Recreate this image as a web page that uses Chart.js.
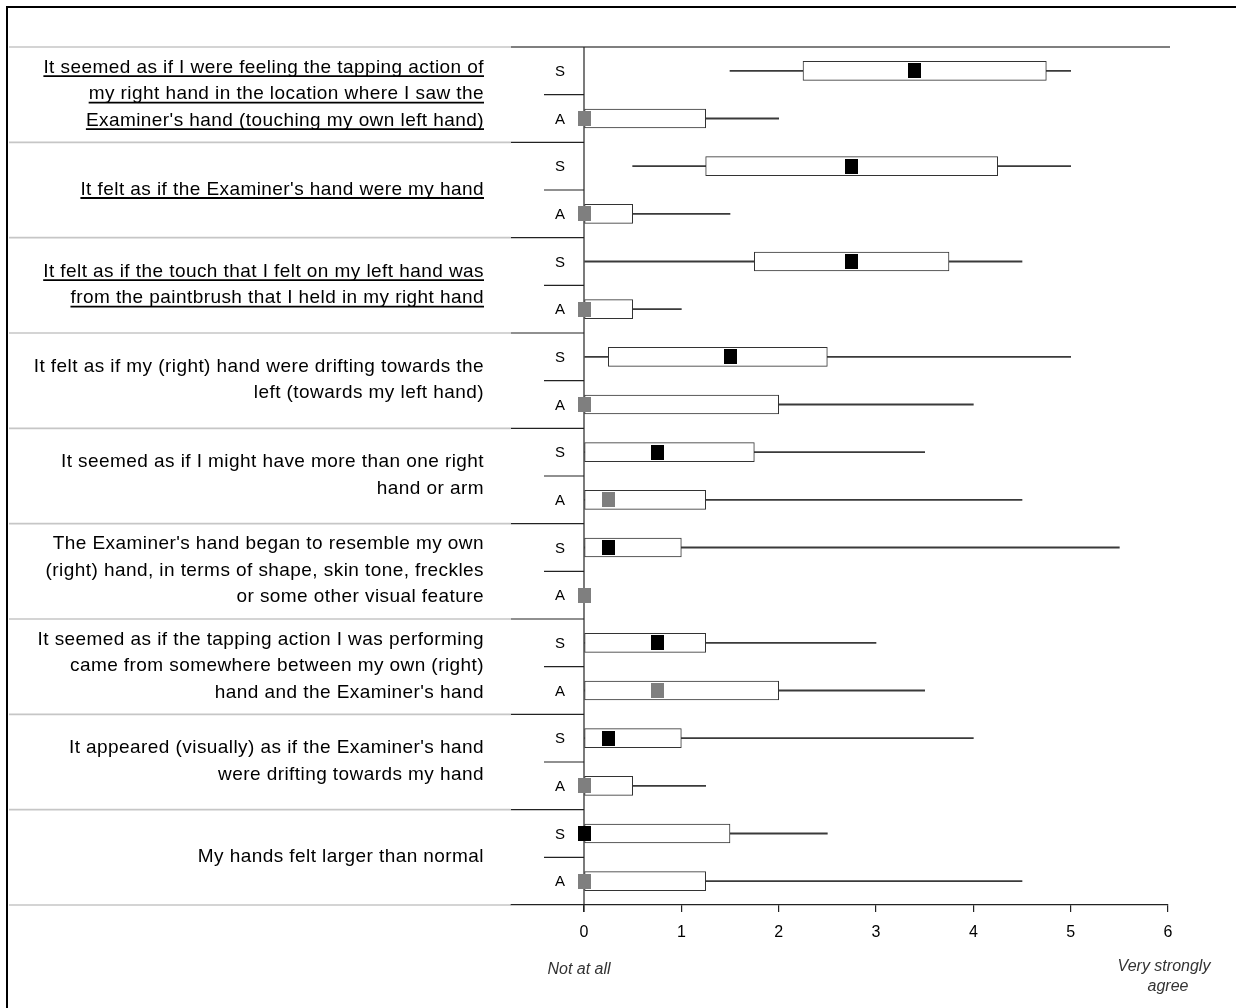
<!DOCTYPE html>
<html>
<head>
<meta charset="utf-8">
<script src="https://cdn.jsdelivr.net/npm/chart.js@4/dist/chart.umd.min.js"></script>
<style>
  html, body { margin: 0; padding: 0; background: #fff; }
  canvas { display: block; }
</style>
</head>
<body>
<canvas id="chart" width="1236" height="1008"></canvas>
<script>
// Questionnaire statements (one entry per item, split into display lines)
const questions = [
  ["It seemed as if I were feeling the tapping action of", "my right hand in the location where I saw the", "Examiner's hand (touching my own left hand)"],
  ["It felt as if the Examiner's hand were my hand"],
  ["It felt as if the touch that I felt on my left hand was", "from the paintbrush that I held in my right hand"],
  ["It felt as if my (right) hand were drifting towards the", "left (towards my left hand)"],
  ["It seemed as if I might have more than one right", "hand or arm"],
  ["The Examiner's hand began to resemble my own", "(right) hand, in terms of shape, skin tone, freckles", "or some other visual feature"],
  ["It seemed as if the tapping action I was performing", "came from somewhere between my own (right)", "hand and the Examiner's hand"],
  ["It appeared (visually) as if the Examiner's hand", "were drifting towards my hand"],
  ["My hands felt larger than normal"]
];
const underlinedItems = [true, true, true, false, false, false, false, false, false];
const conditions = ["S", "A"];

// Synchronous (S) condition: whisker ends, quartiles, median
const sMin    = [1.5,  0.5,  0,    0,    0,    0,    0,    0,    0];
const sQ1     = [2.25, 1.25, 1.75, 0.25, 0,    0,    0,    0,    0];
const sMedian = [3.4,  2.75, 2.75, 1.5,  0.75, 0.25, 0.75, 0.25, 0];
const sQ3     = [4.75, 4.25, 3.75, 2.5,  1.75, 1,    1.25, 1,    1.5];
const sMax    = [5,    5,    4.5,  5,    3.5,  5.5,  3,    4,    2.5];

// Asynchronous (A) condition
const aMin    = [0,    0,    0,    0,    0,    null, 0,    0,    0];
const aQ1     = [0,    0,    0,    0,    0,    null, 0,    0,    0];
const aMedian = [0,    0,    0,    0,    0.25, 0,    0.75, 0,    0];
const aQ3     = [1.25, 0.5,  0.5,  2,    1.25, null, 2,    0.5,  1.25];
const aMax    = [2,    1.5,  1,    4,    4.5,  null, 3.5,  1.25, 4.5];

const xTicks = [0, 1, 2, 3, 4, 5, 6];
const scaleEndLabels = { low: ["Not at all"], high: ["Very strongly", "agree"] };

// One category row per (question, condition)
const rowKeys = questions.flatMap((q, i) => conditions.map(c => (i + 1) + c));

const pairOrNull = (lo, hi) => (lo === null || hi === null) ? null : [lo, hi];
const whiskerData = [], boxData = [], medianData = [];
questions.forEach((q, i) => {
  whiskerData.push(pairOrNull(sMin[i], sMax[i]), pairOrNull(aMin[i], aMax[i]));
  boxData.push(pairOrNull(sQ1[i], sQ3[i]), pairOrNull(aQ1[i], aQ3[i]));
  medianData.push(sMedian[i], aMedian[i]);
});

// Small rectangular median markers
function marker(color) {
  const c = document.createElement('canvas');
  c.width = 13; c.height = 15;
  const g = c.getContext('2d');
  g.fillStyle = color;
  g.fillRect(0, 0, 13, 15);
  return c;
}
const markerS = marker('#000000');
const markerA = marker('#7f7f7f');

const FONT = '"Liberation Sans", Arial, Helvetica, sans-serif';

function rule(ctx, x1, y1, x2, y2, color, w) {
  ctx.beginPath();
  ctx.strokeStyle = color;
  ctx.lineWidth = w;
  ctx.moveTo(x1, y1);
  ctx.lineTo(x2, y2);
  ctx.stroke();
}

const framePlugin = {
  id: 'frame',
  beforeDatasetsDraw(chart) {
    const { ctx, chartArea: a, scales: { x, y } } = chart;
    const x0 = x.getPixelForValue(0);
    const half = (y.getPixelForValue(1) - y.getPixelForValue(0)) / 2;
    ctx.save();
    // outer frame (left and top edges)
    rule(ctx, 7, 6, 7, 1008, '#000', 2);
    rule(ctx, 6, 7, 1236, 7, '#000', 2);
    // group separators
    for (let g = 0; g <= questions.length; g++) {
      const yy = (g === questions.length) ? a.bottom : y.getPixelForValue(2 * g) - half;
      rule(ctx, 9, yy, a.left, yy, '#c6c6c6', 1.6);
      if (g > 0 && g < questions.length) rule(ctx, a.left, yy, x0, yy, '#222', 1.2);
    }
    rule(ctx, a.left, a.top, a.right + 2, a.top, '#555', 1.5);
    // S / A separators inside each group
    for (let g = 0; g < questions.length; g++) {
      const yy = y.getPixelForValue(2 * g) + half;
      rule(ctx, x0 - 40, yy, x0, yy, '#222', 1.2);
    }
    // zero reference line
    rule(ctx, x0, a.top, x0, a.bottom + 7, '#222', 1.2);
    ctx.restore();
  },
  afterDraw(chart) {
    const { ctx, chartArea: a, scales: { x, y } } = chart;
    const x0 = x.getPixelForValue(0);
    const half = (y.getPixelForValue(1) - y.getPixelForValue(0)) / 2;
    ctx.save();
    ctx.fillStyle = '#000';
    // condition letters
    ctx.font = '15px ' + FONT;
    ctx.textAlign = 'center';
    ctx.textBaseline = 'middle';
    rowKeys.forEach((k, i) => {
      ctx.fillText(conditions[i % 2], x0 - 24, y.getPixelForValue(i) + 1);
    });
    // statements
    ctx.font = '19px ' + FONT;
    ctx.letterSpacing = '0.43px';
    ctx.textAlign = 'right';
    ctx.textBaseline = 'alphabetic';
    const right = 484, lh = 26.5;
    questions.forEach((lines, i) => {
      const cy = y.getPixelForValue(2 * i) + half;
      const startY = cy - (lines.length - 1) * lh / 2 + 4.5;
      lines.forEach((t, j) => {
        const by = startY + j * lh;
        ctx.fillText(t, right, by);
        if (underlinedItems[i]) {
          const w = ctx.measureText(t).width;
          rule(ctx, right - w, by + 3.5, right, by + 3.5, '#000', 1.8);
        }
      });
    });
    ctx.letterSpacing = '0px';
    // scale anchors
    ctx.fillStyle = '#333';
    ctx.font = 'italic 16px ' + FONT;
    ctx.textAlign = 'center';
    ctx.textBaseline = 'middle';
    scaleEndLabels.low.forEach((t, j) => ctx.fillText(t, x0 - 5, 970 + j * 20));
    const x6 = x.getPixelForValue(6);
    scaleEndLabels.high.forEach((t, j) => ctx.fillText(t, x6 - 4 + j * 4, 967 + j * 20));
    ctx.restore();
  }
};

new Chart(document.getElementById('chart'), {
  type: 'bar',
  data: {
    labels: rowKeys,
    datasets: [
      {
        type: 'line',
        indexAxis: 'y',
        data: medianData,
        showLine: false,
        pointStyle: ctx => (ctx.dataIndex % 2 === 0 ? markerS : markerA),
        pointRadius: 7,
        pointHoverRadius: 7,
        order: 1
      },
      {
        indexAxis: 'y',
        data: boxData,
        barThickness: 19,
        backgroundColor: '#ffffff',
        borderColor: '#333333',
        borderWidth: 1,
        borderSkipped: false,
        grouped: false,
        order: 2
      },
      {
        indexAxis: 'y',
        data: whiskerData,
        barThickness: 1.2,
        backgroundColor: '#3a3a3a',
        borderWidth: 0,
        grouped: false,
        order: 3
      }
    ]
  },
  options: {
    indexAxis: 'y',
    responsive: false,
    animation: false,
    events: [],
    layout: { padding: { left: 511, top: 47, right: 68, bottom: 0 } },
    plugins: { legend: { display: false }, tooltip: { enabled: false } },
    scales: {
      x: {
        type: 'linear',
        min: -0.75,
        max: 6,
        afterBuildTicks: s => { s.ticks = xTicks.map(v => ({ value: v })); },
        afterFit: s => { s.height = 103; },
        grid: { drawOnChartArea: false, tickLength: 7, color: '#222', lineWidth: 1.2 },
        border: { display: true, color: '#222', width: 1.2 },
        ticks: { color: '#000', font: { family: FONT, size: 16 }, padding: 11, maxRotation: 0 }
      },
      y: {
        type: 'category',
        display: false,
        offset: true,
        grid: { display: false }
      }
    }
  },
  plugins: [framePlugin]
});
</script>
</body>
</html>
